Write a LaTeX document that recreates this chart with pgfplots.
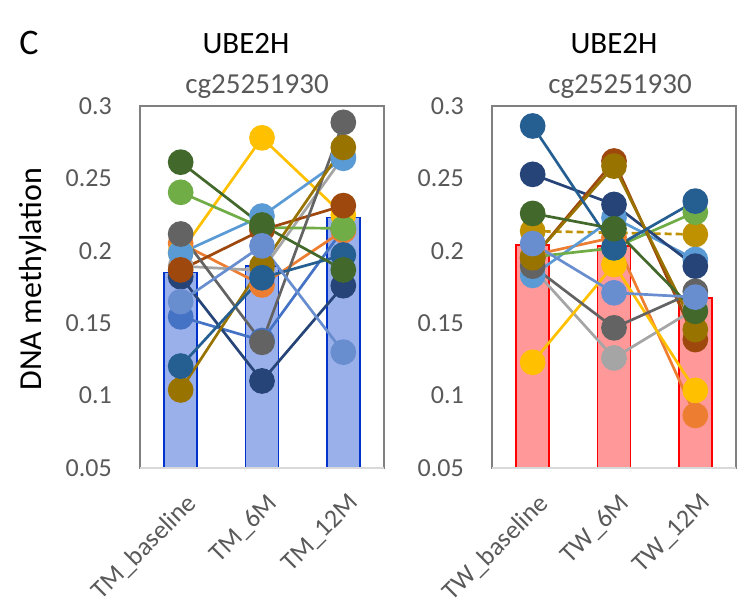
\documentclass[border=0pt]{standalone}
\usepackage{pgfplots}
\pgfplotsset{compat=1.18}
\usepackage{fontspec}
\setmainfont{Carlito}

% Excel default series colours
\definecolor{s1}{HTML}{4472C4}
\definecolor{s2}{HTML}{ED7D31}
\definecolor{s3}{HTML}{A5A5A5}
\definecolor{s4}{HTML}{FFC000}
\definecolor{s5}{HTML}{5B9BD5}
\definecolor{s6}{HTML}{70AD47}
\definecolor{s7}{HTML}{264478}
\definecolor{s8}{HTML}{9E480E}
\definecolor{s9}{HTML}{636363}
\definecolor{s10}{HTML}{997300}
\definecolor{s11}{HTML}{255E91}
\definecolor{s12}{HTML}{43682B}
\definecolor{s13}{HTML}{698ED0}
\definecolor{sgold}{HTML}{BF9000}
\definecolor{tmfill}{HTML}{9AB0EA}
\definecolor{tmedge}{HTML}{0033CC}
\definecolor{twfill}{HTML}{FF9999}
\definecolor{twedge}{HTML}{FF0000}
\definecolor{txtgray}{HTML}{595959}
\definecolor{framegray}{HTML}{808080}
\definecolor{basegray}{HTML}{D9D9D9}

\pgfplotsset{
  panel/.style={
    scale only axis, width=244bp, height=362bp,
    xmin=-0.5, xmax=2.5, ymin=0.05, ymax=0.3,
    xtick={0,1,2},
    ytick={0.05,0.1,0.15,0.2,0.25,0.3},
    yticklabels={0.05,0.1,0.15,0.2,0.25,0.3},
    major tick length=0pt,
    axis line style={draw=framegray, line width=1.3bp},
    ticklabel style={font=\fontsize{26bp}{30bp}\selectfont, text=txtgray},
    yticklabel style={anchor=east, inner sep=0pt, xshift=-28bp},
    xticklabel style={xshift=4bp, yshift=-24bp, rotate=45, anchor=north east, inner sep=0pt},
    clip=false,
  },
  subj/.style={color=#1, line width=2.7bp, mark=*, mark size=11.5bp, mark options={solid, fill=#1, draw=#1}},
}

\begin{document}
\begin{tikzpicture}
\useasboundingbox (0,0) rectangle (737bp,605bp);

\node[font=\fontsize{36bp}{40bp}\selectfont] at (29bp,562bp) {C};
\node[font=\fontsize{32bp}{36bp}\selectfont, rotate=90] at (33bp,326bp) {DNA methylation};

% ---- TM panel ----
\node[font=\fontsize{31bp}{35bp}\selectfont] at (246bp,561bp) {UBE2H};
\node[font=\fontsize{29bp}{33bp}\selectfont, text=txtgray] at (257bp,518bp) {cg25251930};
\begin{axis}[panel, at={(140bp,137bp)}, anchor=south west,
  xticklabels={TM\_baseline,TM\_6M,TM\_12M}]
\addplot[ybar, bar width=33bp, fill=tmfill, draw=tmedge, line width=1.5bp]
  coordinates {(0,0.1849) (1,0.1895) (2,0.2229)};
\addplot[subj=s1]  coordinates {(0,0.1544) (1,0.1380) (2,0.2150)};
\addplot[subj=s2]  coordinates {(0,0.2052) (1,0.1764) (2,0.2140)};
\addplot[subj=s3]  coordinates {(0,0.1894) (1,0.1864) (2,0.2650)};
\addplot[subj=s4]  coordinates {(0,0.1990) (1,0.2780) (2,0.2247)};
\addplot[subj=s5]  coordinates {(0,0.1984) (1,0.2240) (2,0.2639)};
\addplot[subj=s6]  coordinates {(0,0.2404) (1,0.2160) (2,0.2155)};
\addplot[subj=s7]  coordinates {(0,0.1821) (1,0.1101) (2,0.1759)};
\addplot[subj=s8]  coordinates {(0,0.1868) (1,0.2144) (2,0.2312)};
\addplot[subj=s9]  coordinates {(0,0.2116) (1,0.1368) (2,0.2887)};
\addplot[subj=s10] coordinates {(0,0.1039) (1,0.1897) (2,0.2714)};
\addplot[subj=s11] coordinates {(0,0.1204) (1,0.1814) (2,0.1971)};
\addplot[subj=s12] coordinates {(0,0.2612) (1,0.2178) (2,0.1868)};
\addplot[subj=s13] coordinates {(0,0.1649) (1,0.2034) (2,0.1300)};
\draw[basegray, line width=1.5bp] (axis cs:-0.5,0.05) -- (axis cs:2.5,0.05);
\end{axis}

% ---- TW panel ----
\node[font=\fontsize{31bp}{35bp}\selectfont] at (614bp,561bp) {UBE2H};
\node[font=\fontsize{29bp}{33bp}\selectfont, text=txtgray] at (620bp,518bp) {cg25251930};
\begin{axis}[panel, at={(492bp,137bp)}, anchor=south west,
  xticklabels={TW\_baseline,TW\_6M,TW\_12M}]
\addplot[ybar, bar width=33bp, fill=twfill, draw=twedge, line width=1.5bp]
  coordinates {(0,0.2040) (1,0.2033) (2,0.1674)};
\addplot[subj=sgold, dash pattern=on 7bp off 4bp] coordinates {(0,0.2136) (2,0.2113)};
\addplot[subj=s2]  coordinates {(0,0.1970) (1,0.2093) (2,0.0863)};
\addplot[subj=s3]  coordinates {(0,0.1880) (1,0.1260) (2,0.1600)};
\addplot[subj=s4]  coordinates {(0,0.1230) (1,0.1905) (2,0.1036)};
\addplot[subj=s5]  coordinates {(0,0.1830) (1,0.2228) (2,0.1940)};
\addplot[subj=s6]  coordinates {(0,0.1957) (1,0.2020) (2,0.2267)};
\addplot[subj=s7]  coordinates {(0,0.2528) (1,0.2320) (2,0.1894)};
\addplot[subj=s8]  coordinates {(0,0.1950) (1,0.2620) (2,0.1387)};
\addplot[subj=s9]  coordinates {(0,0.1894) (1,0.1468) (2,0.1720)};
\addplot[subj=s10] coordinates {(0,0.1952) (1,0.2585) (2,0.1456)};
\addplot[subj=s11] coordinates {(0,0.2862) (1,0.2021) (2,0.2343)};
\addplot[subj=s12] coordinates {(0,0.2258) (1,0.2152) (2,0.1582)};
\addplot[subj=s13] coordinates {(0,0.2050) (1,0.1710) (2,0.1680)};
\draw[basegray, line width=1.5bp] (axis cs:-0.5,0.05) -- (axis cs:2.5,0.05);
\end{axis}
\end{tikzpicture}
\end{document}
